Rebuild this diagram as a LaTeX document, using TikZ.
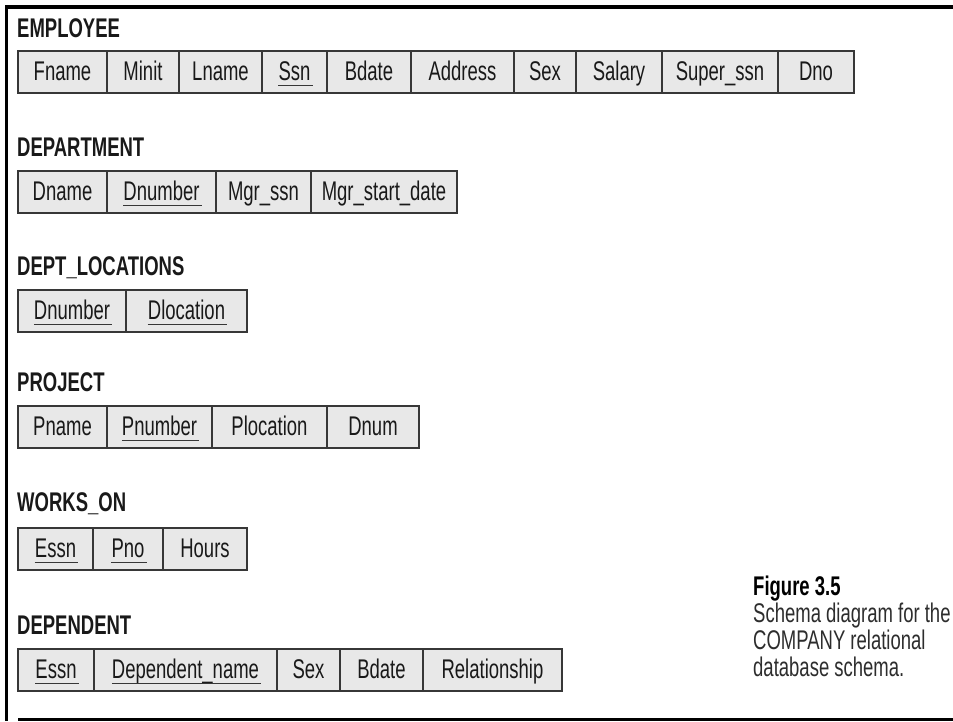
\documentclass[tikz,border=0pt]{standalone}
\usepackage{fontspec}
\setmainfont{Liberation Sans}[FakeStretch=0.685]
\definecolor{cellfill}{RGB}{232,232,232}
\definecolor{cellline}{RGB}{55,55,55}
\definecolor{ink}{RGB}{25,25,25}
\definecolor{capink}{RGB}{45,45,45}
\tikzset{
  frameline/.style={line width=3.5pt, black, line join=miter},
  cellbox/.style={fill=cellfill, draw=cellline, line width=1.8pt},
  celltext/.style={anchor=base, inner sep=0pt, text=ink, font=\fontsize{27}{31}\selectfont},
  reltitle/.style={anchor=base west, inner sep=0pt, text=ink, font=\fontsize{27}{31}\selectfont\bfseries},
  keyline/.style={draw=cellline, line width=1.8pt},
  captext/.style={anchor=base west, inner sep=0pt, text=capink, font=\fontsize{27}{31}\selectfont},
  capbold/.style={anchor=base west, inner sep=0pt, text=black, font=\fontsize{27}{31}\selectfont\bfseries}
}
\newcommand\tabrow[3]{%
  \foreach \nm/\xa/\xb/\lab/\u in {#3} {
    \draw[cellbox] (\xa,#2) rectangle (\xb,#2+42);
    \node[celltext] (#1-\nm) at ({(\xa+\xb)/2},#2+29.5) {\lab};
    \ifnum\u=1 \draw[keyline] ([yshift=-5pt]#1-\nm.base west) -- ([yshift=-5pt,xshift=2pt]#1-\nm.base east);\fi
  }}
\begin{document}
\begin{tikzpicture}[x=1pt,y=-1pt]
\useasboundingbox (0,0) rectangle (953,721);
% frame
\draw[frameline] (953,7) -- (6.5,7) -- (6.5,721);
\draw[frameline] (18,719.5) -- (953,719.5);
% EMPLOYEE
\node[reltitle] (t-emp) at (17,37) {EMPLOYEE};
\tabrow{emp}{51}{fn/18/107/Fname/0, mi/107/179/Minit/0, ln/179/262/Lname/0, ssn/262/327/Ssn/1, bd/327/411/Bdate/0, ad/411/514/Address/0, sx/514/576/Sex/0, sa/576/662/Salary/0, su/662/778/Super\_ssn/0, dno/778/854/Dno/0}
% DEPARTMENT
\node[reltitle] (t-dep) at (17,156) {DEPARTMENT};
\tabrow{dept}{171}{dna/18/107/Dname/0, dnu/107/216/Dnumber/1, mgr/216/311/Mgr\_ssn/0, msd/311/457/Mgr\_start\_date/0}
% DEPT_LOCATIONS
\node[reltitle] (t-dloc) at (17,275) {DEPT\_LOCATIONS};
\tabrow{dloc}{290}{dnu/18/126/Dnumber/1, dlo/126/247/Dlocation/1}
% PROJECT
\node[reltitle] (t-proj) at (17,391) {PROJECT};
\tabrow{proj}{406}{pna/18/107/Pname/0, pnu/107/212/Pnumber/1, plo/212/327/Plocation/0, dnum/327/419/Dnum/0}
% WORKS_ON
\node[reltitle] (t-works) at (17,511) {WORKS\_ON};
\tabrow{works}{528}{es/18/93/Essn/1, pno/93/163/Pno/1, hr/163/247/Hours/0}
% DEPENDENT
\node[reltitle] (t-dpnd) at (17,634) {DEPENDENT};
\tabrow{dpnd}{649}{es/18/94/Essn/1, dep/94/277/Dependent\_name/1, sx/277/340/Sex/0, bd/340/423/Bdate/0, rel/423/562/Relationship/0}
% caption
\node[capbold] (cap0) at (753,595) {Figure 3.5};
\node[captext] (cap1) at (753,622) {Schema diagram for the};
\node[captext] (cap2) at (753,649) {COMPANY relational};
\node[captext] (cap3) at (753,676) {database schema.};
\end{tikzpicture}
\end{document}
